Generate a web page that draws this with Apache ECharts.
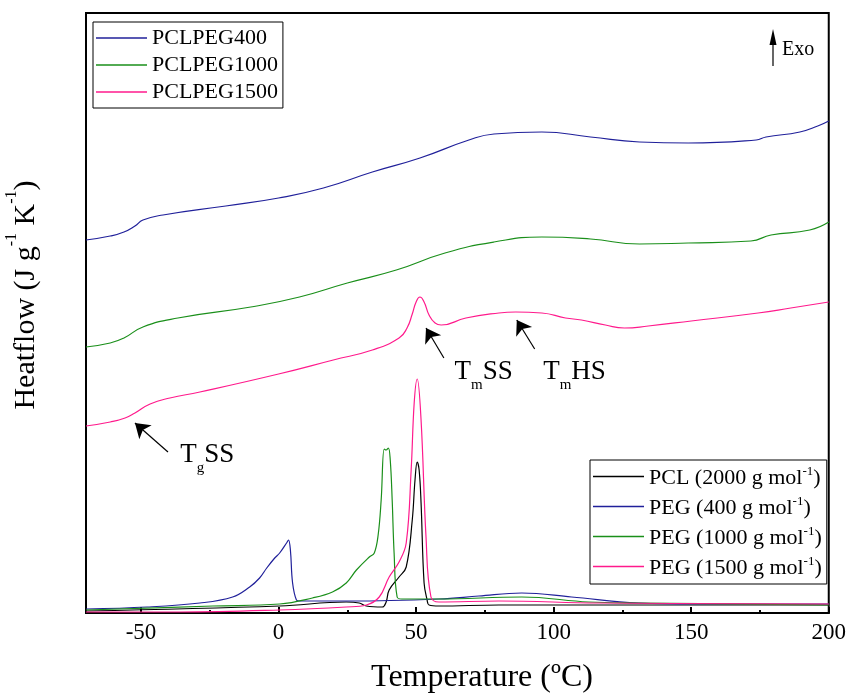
<!DOCTYPE html>
<html>
<head>
<meta charset="utf-8">
<script src="https://cdn.jsdelivr.net/npm/echarts@6/dist/echarts.min.js"></script>
<style>
  html, body { margin: 0; padding: 0; background: #fff; }
  #chart { width: 849px; height: 695px; }
</style>
</head>
<body>
<div id="chart"></div>
<script>
// DSC heat-flow traces: temperature (°C) vs. heat flow (arbitrary offset units)
const xMajorTicks = [-50, 0, 50, 100, 150, 200];
const xMinorTicks = [-25, 25, 75, 125, 175];

const copolymerNames = ['PCLPEG400', 'PCLPEG1000', 'PCLPEG1500'];
const precursorNames = ['PCL (2000 g mol-1)', 'PEG (400 g mol-1)', 'PEG (1000 g mol-1)', 'PEG (1500 g mol-1)'];

// copolymers (stacked, offset traces)
const pclpeg400 = [
  [-70, 3.73], [-61.2, 3.77], [-56.2, 3.81], [-52.2, 3.87], [-49.3, 3.93], [-42.0, 3.98],
  [-19.2, 4.07], [0, 4.15], [16.3, 4.25], [34.1, 4.41], [51.4, 4.55], [69.2, 4.73],
  [78.3, 4.79], [95.7, 4.81], [113.4, 4.76], [131.2, 4.71], [148.9, 4.70], [173.6, 4.73],
  [177.2, 4.76], [189.5, 4.81], [196.0, 4.87], [200, 4.92]
];
const pclpeg1000 = [
  [-70, 2.66], [-61.2, 2.70], [-56.2, 2.75], [-49.3, 2.86], [-36.6, 2.95], [-10.1, 3.06],
  [7.6, 3.16], [25.0, 3.30], [42.8, 3.43], [60.5, 3.60], [78.3, 3.71], [95.7, 3.76],
  [113.4, 3.74], [131.2, 3.69], [148.9, 3.70], [171.7, 3.72], [179.0, 3.78], [193.1, 3.83],
  [200, 3.91]
];
const pclpeg1500 = [
  [-70, 1.87], [-61.2, 1.91], [-55.8, 1.95], [-52.2, 2.00], [-46.7, 2.09], [-39.5, 2.15],
  [-28.6, 2.21], [0, 2.39], [19.9, 2.53], [34.1, 2.63], [43.8, 2.75], [46.7, 2.85],
  [48.6, 2.99], [50.0, 3.11], [51.4, 3.16], [52.9, 3.11], [54.7, 2.98], [56.9, 2.90],
  [59.1, 2.88], [68.1, 2.95], [80.1, 3.00], [86.2, 3.01], [95.7, 3.00], [104.3, 2.95],
  [110.1, 2.93], [118.8, 2.88], [125.7, 2.85], [134.4, 2.87], [150.0, 2.92], [174.3, 3.00],
  [186.2, 3.05], [200, 3.11]
];

// precursors
const pcl2000 = [
  [-70, 0.02], [0.4, 0.07], [24.6, 0.11], [29.3, 0.10], [31.9, 0.07], [37.7, 0.06],
  [39.1, 0.11], [40.2, 0.23], [43.8, 0.36], [46.4, 0.46], [48.6, 0.93], [49.6, 1.33],
  [50.4, 1.51], [51.1, 1.43], [51.8, 1.10], [52.9, 0.30], [54.0, 0.13], [54.7, 0.08],
  [58.3, 0.07], [80.1, 0.08], [200, 0.08]
];
const peg400 = [
  [-70, 0.04], [-47.8, 0.06], [-28.6, 0.10], [-16.7, 0.16], [-10.5, 0.26], [-6.9, 0.35],
  [-4.3, 0.45], [-1.4, 0.55], [0.4, 0.60], [2.9, 0.70], [3.6, 0.73], [4.3, 0.63],
  [5.1, 0.30], [6.5, 0.13], [7.6, 0.12], [25.7, 0.12], [58.3, 0.14], [72.8, 0.17],
  [88.4, 0.20], [106.5, 0.16], [130.8, 0.10], [152.5, 0.09], [200, 0.09]
];
const peg1000 = [
  [-70, 0.03], [-23.9, 0.07], [0.4, 0.09], [12.3, 0.15], [19.6, 0.21], [24.6, 0.30],
  [28.3, 0.43], [33.0, 0.56], [34.8, 0.60], [36.2, 0.78], [37.3, 1.13], [38.4, 1.64],
  [39.1, 1.63], [39.9, 1.65], [40.6, 1.53], [41.3, 1.13], [42.0, 0.60], [43.1, 0.16],
  [44.9, 0.14], [58.3, 0.14], [88.4, 0.16], [112.7, 0.11], [130.8, 0.10], [200, 0.08]
];
const peg1500 = [
  [-70, 0.01], [-35.9, 0.01], [0.4, 0.03], [24.6, 0.06], [31.9, 0.08], [36.6, 0.16],
  [40.2, 0.36], [43.8, 0.51], [46.4, 0.70], [48.2, 1.43], [49.3, 2.10], [50.4, 2.34],
  [51.8, 1.93], [53.6, 0.76], [55.4, 0.16], [58.3, 0.11], [80.1, 0.12], [116.3, 0.10],
  [200, 0.09]
];

const FONT = '"Liberation Serif", "Times New Roman", serif';
const COLORS = { navy: '#20209a', green: '#1a8f1a', pink: '#ff1a8c', black: '#000000' };

// transition annotations: label anchor, arrow tail and arrow head (data coordinates)
const annotations = [
  { main: 'T', sub: 'g', tailText: 'SS', at: [-35.9, 1.58], tail: [-40.2, 1.61], head: [-52.2, 1.90] },
  { main: 'T', sub: 'm', tailText: 'SS', at: [63.8, 2.41], tail: [60.1, 2.55], head: [53.6, 2.85] },
  { main: 'T', sub: 'm', tailText: 'HS', at: [96.0, 2.41], tail: [93.1, 2.64], head: [86.6, 2.93] }
];

const annoRich = {
  t: { fontFamily: FONT, fontSize: 27, lineHeight: 28, color: '#000', verticalAlign: 'top' },
  b: { fontFamily: FONT, fontSize: 15, lineHeight: 15, color: '#000', verticalAlign: 'top', padding: [20, 0, 0, 0] }
};

function supLabel(name) {
  return name.replace(/^(.*)-1\)$/, '{a|$1}{s|-1}{a|)}');
}

function lineSeries(name, data, color, extra) {
  return Object.assign({
    name: name,
    type: 'line',
    data: data,
    symbol: 'none',
    showSymbol: false,
    smooth: 0.5,
    lineStyle: { color: color, width: 1.2 },
    itemStyle: { color: color },
    emphasis: { disabled: true },
    xAxisIndex: 0,
    yAxisIndex: 0,
    z: 3
  }, extra || {});
}

const chart = echarts.init(document.getElementById('chart'), null, { renderer: 'canvas' });

const option = {
  animation: false,
  backgroundColor: '#fff',
  grid: {
    left: 86, right: 18, top: 13, bottom: 82,
    show: true, borderColor: '#000', borderWidth: 2, backgroundColor: 'transparent'
  },
  xAxis: [
    {
      type: 'value', min: -70, max: 200, position: 'bottom',
      axisLine: { show: true, onZero: false, lineStyle: { color: '#000', width: 2 } },
      axisTick: { show: true, inside: true, length: 6, customValues: xMajorTicks, lineStyle: { color: '#000', width: 2 } },
      axisLabel: { show: true, customValues: xMajorTicks, margin: 8, color: '#000', fontFamily: FONT, fontSize: 23 },
      splitLine: { show: false }
    },
    {
      type: 'value', min: -70, max: 200, position: 'bottom',
      axisLine: { show: false, onZero: false },
      axisTick: { show: true, inside: true, length: 3, customValues: xMinorTicks, lineStyle: { color: '#000', width: 2 } },
      axisLabel: { show: false },
      splitLine: { show: false }
    }
  ],
  yAxis: {
    type: 'value', min: 0, max: 6,
    axisLine: { show: true, onZero: false, lineStyle: { color: '#000', width: 2 } },
    axisTick: { show: false },
    axisLabel: { show: false },
    splitLine: { show: false }
  },
  legend: [
    {
      data: copolymerNames,
      orient: 'vertical', left: 93, top: 22,
      borderColor: '#000', borderWidth: 1, padding: [5, 5, 5, 3],
      itemGap: 5, itemWidth: 51, itemHeight: 1.5, icon: 'rect',
      selectedMode: false,
      textStyle: { fontFamily: FONT, fontSize: 22, lineHeight: 22, color: '#000' }
    },
    {
      data: precursorNames,
      orient: 'vertical', left: 590, top: 460,
      borderColor: '#000', borderWidth: 1, padding: [5, 5, 5, 3],
      itemGap: 6, itemWidth: 51, itemHeight: 1.5, icon: 'rect',
      selectedMode: false,
      formatter: supLabel,
      textStyle: {
        fontFamily: FONT, fontSize: 22, color: '#000',
        rich: {
          a: { fontFamily: FONT, fontSize: 22, lineHeight: 25, color: '#000', verticalAlign: 'bottom' },
          s: { fontFamily: FONT, fontSize: 13, lineHeight: 13, color: '#000', verticalAlign: 'bottom', padding: [0, 0, 11, 0] }
        }
      }
    }
  ],
  graphic: [
    {
      type: 'text', x: 25, y: 295, rotation: Math.PI / 2,
      style: {
        text: '{a|Heatflow (J g}{s|-1}{a| K}{s|-1}{a|)}',
        align: 'center', verticalAlign: 'middle',
        rich: {
          a: { fontFamily: FONT, fontSize: 30, lineHeight: 32, fill: '#000', verticalAlign: 'bottom' },
          s: { fontFamily: FONT, fontSize: 16, lineHeight: 16, fill: '#000', verticalAlign: 'bottom', padding: [0, 0, 21, 0] }
        }
      }
    },
    {
      type: 'text', x: 482, y: 678,
      style: {
        text: 'Temperature (ºC)', font: '32px ' + FONT, fill: '#000',
        align: 'center', verticalAlign: 'middle'
      }
    },
    {
      type: 'group',
      children: [
        { type: 'line', shape: { x1: 773, y1: 66, x2: 773, y2: 40 }, style: { stroke: '#000', lineWidth: 1.2 } },
        { type: 'polygon', shape: { points: [[769.5, 45], [773, 29], [776.5, 45]] }, style: { fill: '#000' } },
        { type: 'text', x: 782, y: 50, style: { text: 'Exo', font: '20px ' + FONT, fill: '#000', verticalAlign: 'middle', align: 'left' } }
      ]
    }
  ],
  series: [
    lineSeries(copolymerNames[0], pclpeg400, COLORS.navy),
    lineSeries(copolymerNames[1], pclpeg1000, COLORS.green),
    lineSeries(copolymerNames[2], pclpeg1500, COLORS.pink, {
      markLine: {
        silent: true,
        symbol: ['none', 'arrow'],
        symbolSize: 14,
        label: { show: false },
        itemStyle: { color: '#000' },
        lineStyle: { color: '#000', width: 1.2, type: 'solid' },
        emphasis: { disabled: true },
        data: annotations.map(a => [{ coord: a.tail }, { coord: a.head }])
      },
      markPoint: {
        silent: true,
        symbol: 'circle',
        symbolSize: 1,
        itemStyle: { color: 'rgba(0,0,0,0)' },
        data: annotations.map(a => ({
          coord: a.at,
          label: {
            show: true, position: 'right', distance: 0, color: '#000',
            formatter: '{t|' + a.main + '}{b|' + a.sub + '}{t|' + a.tailText + '}',
            rich: annoRich
          }
        }))
      }
    }),
    lineSeries(precursorNames[0], pcl2000, COLORS.black, { smooth: 0.4 }),
    lineSeries(precursorNames[1], peg400, COLORS.navy, { smooth: 0.4 }),
    lineSeries(precursorNames[2], peg1000, COLORS.green, { smooth: 0.4 }),
    lineSeries(precursorNames[3], peg1500, COLORS.pink, { smooth: 0.4 })
  ]
};

chart.setOption(option);
</script>
</body>
</html>
